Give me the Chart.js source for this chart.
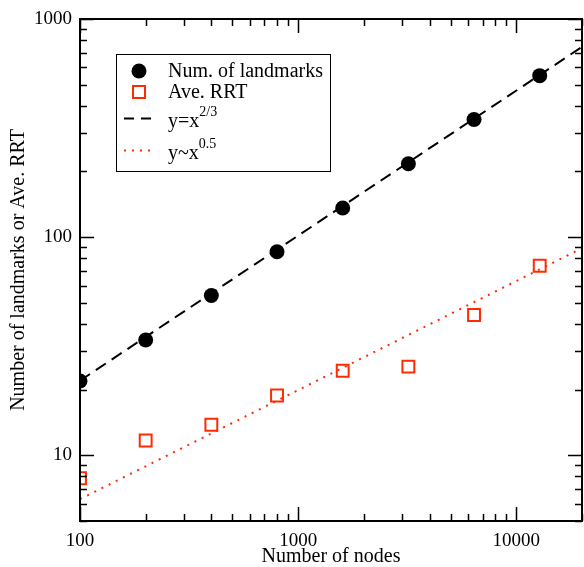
<!DOCTYPE html>
<html>
<head>
<meta charset="utf-8">
<script src="https://cdn.jsdelivr.net/npm/chart.js@4/dist/chart.umd.min.js"></script>
<style>
  html, body { margin: 0; padding: 0; background: #fff; overflow: hidden; }
  #wrap { width: 584px; height: 567px; }
</style>
</head>
<body>
<div id="wrap"><canvas id="chart"></canvas></div>
<script>
// values
const nodes = [100, 200, 400, 800, 1600, 3200, 6400, 12800];
const landmarks = [21.9, 33.8, 54, 85.7, 136, 217, 346, 550];
const aveRRT = [7.85, 11.7, 13.8, 18.8, 24.4, 25.5, 44, 74];
// fitted lines, end points only (straight on log-log)
const fitX = [100, 20000];
const fitLandmarks = [22, 745];
const fitRRT = [6.3, 89];
const xLabels = [100, 1000, 10000];
const yLabels = [10, 100, 1000];

const RED = '#ff2a00';
const SERIF = '"Liberation Serif", "DejaVu Serif", serif';

function logTicks(min, max) {
  const out = [];
  for (let d = 1; d <= 100000; d *= 10)
    for (let m = 1; m < 10; m++) {
      const v = m * d;
      if (v >= min && v <= max) out.push(v);
    }
  return out;
}
const xTickVals = logTicks(100, 20000);
const yTickVals = logTicks(5, 1000);

const pairs = (xs, ys) => xs.map((x, i) => ({x: x, y: ys[i]}));

// frame with inward ticks on all four sides
const framePlugin = {
  id: 'frame',
  afterDraw(chart) {
    const {ctx, chartArea: a, scales} = chart;
    ctx.save();
    ctx.strokeStyle = '#000';
    ctx.lineWidth = 1.5;
    xTickVals.forEach(v => {
      const px = Math.round(scales.x.getPixelForValue(v)) + 0.5;
      const len = xLabels.includes(v) ? 14 : 7;
      ctx.beginPath();
      ctx.moveTo(px, a.bottom); ctx.lineTo(px, a.bottom - len);
      ctx.moveTo(px, a.top); ctx.lineTo(px, a.top + len);
      ctx.stroke();
    });
    yTickVals.forEach(v => {
      const py = Math.round(scales.y.getPixelForValue(v)) + 0.5;
      const len = yLabels.includes(v) ? 14 : 7;
      ctx.beginPath();
      ctx.moveTo(a.left, py); ctx.lineTo(a.left + len, py);
      ctx.moveTo(a.right, py); ctx.lineTo(a.right - len, py);
      ctx.stroke();
    });
    ctx.lineWidth = 2;
    ctx.strokeRect(a.left, a.top, a.right - a.left, a.bottom - a.top);
    ctx.restore();
  }
};

// boxed legend like the original, with superscripts
const legendPlugin = {
  id: 'boxLegend',
  afterDraw(chart) {
    const ctx = chart.ctx;
    ctx.save();
    ctx.fillStyle = '#fff';
    ctx.fillRect(116, 54, 214, 117);
    ctx.strokeStyle = '#000';
    ctx.lineWidth = 1;
    ctx.strokeRect(116.5, 54.5, 214, 117);

    // symbols
    ctx.fillStyle = '#000';
    ctx.beginPath(); ctx.arc(139, 71, 7.5, 0, Math.PI * 2); ctx.fill();
    ctx.strokeStyle = RED; ctx.lineWidth = 2;
    ctx.strokeRect(133, 86, 12, 12);
    ctx.strokeStyle = '#000'; ctx.lineWidth = 2;
    ctx.setLineDash([10, 7]);
    ctx.beginPath(); ctx.moveTo(124, 118.5); ctx.lineTo(153, 118.5); ctx.stroke();
    ctx.strokeStyle = RED;
    ctx.setLineDash([2, 6]);
    ctx.beginPath(); ctx.moveTo(124, 150.5); ctx.lineTo(154, 150.5); ctx.stroke();
    ctx.setLineDash([]);

    // text
    ctx.fillStyle = '#000';
    ctx.textBaseline = 'alphabetic';
    ctx.font = '20px ' + SERIF;
    ctx.fillText('Num. of landmarks', 168, 77);
    ctx.fillText('Ave. RRT', 168, 98);
    ctx.fillText('y=x', 168, 127);
    let w = ctx.measureText('y=x').width;
    ctx.font = '14px ' + SERIF;
    ctx.fillText('2/3', 168 + w, 116);
    ctx.font = '20px ' + SERIF;
    ctx.fillText('y~x', 168, 159);
    w = ctx.measureText('y~x').width;
    ctx.font = '14px ' + SERIF;
    ctx.fillText('0.5', 168 + w, 148);
    ctx.restore();
  }
};

new Chart(document.getElementById('chart'), {
  type: 'scatter',
  data: {
    datasets: [
      {
        label: 'Num. of landmarks',
        data: pairs(nodes, landmarks),
        pointStyle: 'circle',
        pointRadius: 7.5,
        pointBackgroundColor: '#000',
        pointBorderWidth: 0,
        order: 1
      },
      {
        label: 'Ave. RRT',
        data: pairs(nodes, aveRRT),
        pointStyle: 'rect',
        pointRadius: 8.4,
        pointBackgroundColor: 'rgba(0,0,0,0)',
        pointBorderColor: RED,
        pointBorderWidth: 2,
        order: 2
      },
      {
        label: 'y=x^2/3',
        data: pairs(fitX, fitLandmarks),
        showLine: true,
        borderColor: '#000',
        borderWidth: 2,
        borderDash: [12, 7],
        pointRadius: 0,
        order: 3
      },
      {
        label: 'y~x^0.5',
        data: pairs(fitX, fitRRT),
        showLine: true,
        borderColor: RED,
        borderWidth: 2,
        borderDash: [2, 6],
        pointRadius: 0,
        order: 4
      }
    ]
  },
  options: {
    responsive: true,
    maintainAspectRatio: false,
    animation: false,
    layout: { autoPadding: false, padding: { top: 19, right: 2, left: 0, bottom: 0 } },
    plugins: { legend: { display: false }, tooltip: { enabled: false } },
    scales: {
      x: {
        type: 'logarithmic',
        min: 100,
        max: 20000,
        afterBuildTicks: s => { s.ticks = xTickVals.map(v => ({value: v})); },
        afterFit: s => { s.height = 46; s.paddingRight = 0; s.paddingLeft = 0; },
        grid: { display: false, drawTicks: false },
        border: { display: false },
        ticks: {
          autoSkip: false,
          maxRotation: 0,
          padding: 9,
          color: '#000',
          font: { family: SERIF, size: 19 },
          callback: v => xLabels.includes(v) ? String(v) : ''
        },
        title: {
          display: true,
          text: 'Number of nodes',
          color: '#000',
          font: { family: SERIF, size: 20, lineHeight: 1 },
          padding: { top: 0, bottom: 0 }
        }
      },
      y: {
        type: 'logarithmic',
        min: 5,
        max: 1000,
        afterBuildTicks: s => { s.ticks = yTickVals.map(v => ({value: v})); },
        afterFit: s => { s.width = 80; s.paddingTop = 0; s.paddingBottom = 0; },
        grid: { display: false, drawTicks: false },
        border: { display: false },
        ticks: {
          autoSkip: false,
          padding: 8,
          color: '#000',
          font: { family: SERIF, size: 19 },
          callback: v => yLabels.includes(v) ? String(v) : ''
        },
        title: {
          display: true,
          text: 'Number of landmarks or Ave. RRT',
          color: '#000',
          font: { family: SERIF, size: 20 },
          padding: { top: 7, bottom: 0 }
        }
      }
    }
  },
  plugins: [framePlugin, legendPlugin]
});
</script>
</body>
</html>
